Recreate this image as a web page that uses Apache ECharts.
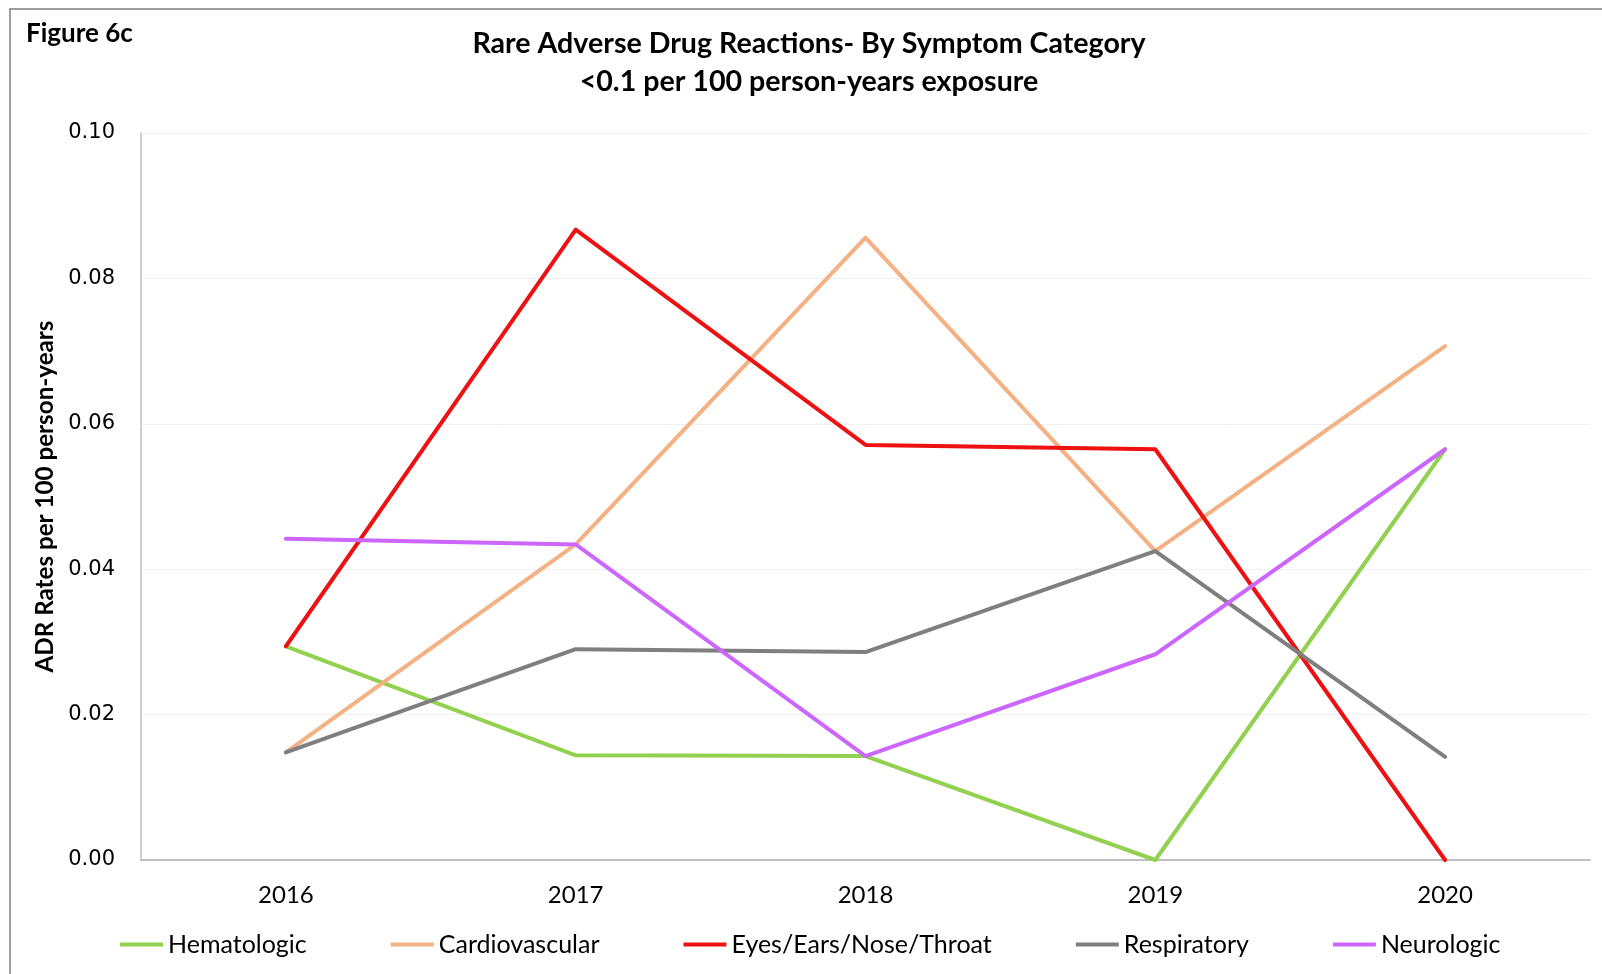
<!DOCTYPE html>
<html>
<head>
<meta charset="utf-8">
<script src="https://cdn.jsdelivr.net/npm/echarts@6/dist/echarts.min.js"></script>
<style>
html,body{margin:0;padding:0;background:#fff;}
#chart{width:1602px;height:974px;}
</style>
</head>
<body>
<div id="chart"></div>
<script>
const years = ['2016', '2017', '2018', '2019', '2020'];
const yTicks = [0, 0.02, 0.04, 0.06, 0.08, 0.10];
const hematologic = [0.0294, 0.0144, 0.0143, 0.0, 0.0565];
const cardiovascular = [0.0148, 0.0434, 0.0856, 0.0425, 0.0707];
const eyesEarsNoseThroat = [0.0294, 0.0867, 0.0571, 0.0565, 0.0];
const respiratory = [0.0148, 0.0290, 0.0286, 0.0425, 0.0142];
const neurologic = [0.0442, 0.0434, 0.0143, 0.0283, 0.0565];

const seriesNames = ['Hematologic', 'Cardiovascular', 'Eyes/Ears/Nose/Throat', 'Respiratory', 'Neurologic'];
const seriesData = [hematologic, cardiovascular, eyesEarsNoseThroat, respiratory, neurologic];
const colors = ['#92d050', '#f4b183', '#ee1111', '#7f7f7f', '#cc66ff'];

const chart = echarts.init(document.getElementById('chart'));
chart.setOption({
  animation: false,
  backgroundColor: '#ffffff',
  title: [
    {
      text: 'Rare Adverse Drug Reactions- By Symptom Category\n<0.1 per 100 person-years exposure',
      left: 809, top: 25, padding: 0, textAlign: 'center',
      textStyle: { fontFamily: 'Lato', fontWeight: 'bold', fontSize: 28.6, color: '#000', lineHeight: 38 }
    },
    {
      text: 'Figure 6c',
      left: 26, top: 19, padding: 0,
      textStyle: { fontFamily: 'Lato', fontWeight: 'bold', fontSize: 26, color: '#000', lineHeight: 30 }
    }
  ],
  graphic: [{
    type: 'rect', shape: { x: 10, y: 9, width: 1620, height: 1000 },
    style: { fill: 'none', stroke: '#7f7f7f', lineWidth: 1.5 }, silent: true, z: 100
  }],
  legend: {
    bottom: 12, left: 115, padding: 5,
    data: seriesNames,
    icon: 'rect', itemWidth: 43, itemHeight: 4, itemGap: 84,
    textStyle: { fontFamily: 'Lato', fontSize: 25, color: '#000' }
  },
  grid: { left: 141, right: 12, top: 133, bottom: 114, containLabel: false },
  xAxis: {
    type: 'category', data: years, boundaryGap: true,
    axisLine: { lineStyle: { color: '#bfbfbf', width: 2 } },
    axisTick: { show: false },
    axisLabel: { fontFamily: 'Lato', fontSize: 24, color: '#000', margin: 23 }
  },
  yAxis: {
    type: 'value', min: yTicks[0], max: yTicks[yTicks.length - 1], interval: 0.02,
    name: 'ADR Rates per 100 person-years', nameLocation: 'middle', nameGap: 80,
    nameTextStyle: { fontFamily: 'Lato', fontWeight: 'bold', fontSize: 24.2, color: '#000' },
    axisLine: { show: true, lineStyle: { color: '#bfbfbf', width: 1.5 } },
    axisTick: { show: false },
    splitLine: { lineStyle: { color: '#f0f0f0', width: 1 } },
    axisLabel: { fontFamily: 'DejaVu Sans', fontSize: 21, color: '#000', margin: 26,
      formatter: v => v.toFixed(2) }
  },
  series: seriesNames.map((n, i) => ({
    name: n, type: 'line', data: seriesData[i],
    symbol: 'none', lineStyle: { color: colors[i], width: 4, cap: 'round', join: 'round' },
    itemStyle: { color: colors[i] }
  }))
});
</script>
</body>
</html>
